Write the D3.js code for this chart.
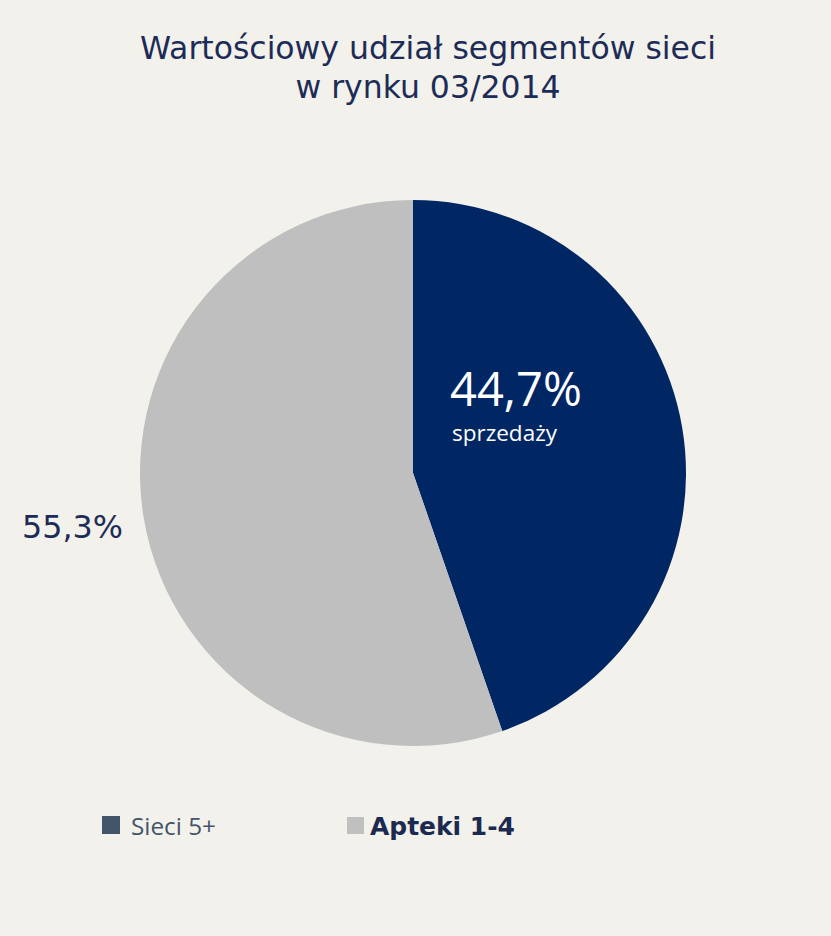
<!DOCTYPE html>
<html>
<head>
<meta charset="utf-8">
<script src="https://cdn.jsdelivr.net/npm/d3@7"></script>
<style>
  body { margin: 0; background: #f2f1eb; }
  svg { display: block; }
</style>
</head>
<body>
<div id="chart"></div>
<script>
let categories = ["Sieci 5+", "Apteki 1-4"];
let values     = [44.7, 55.3];
let colors     = ["#002663", "#bfbfbf"];
let titleLines = ["Wartościowy udział segmentów sieci", "w rynku 03/2014"];

let width  = 831,
    height = 936;

let cx = 413, cy = 473, radius = 273;

let svg =
  d3.select("#chart")
    .append("svg")
      .attr("width", width)
      .attr("height", height);

svg.append("rect")
    .attr("width", width)
    .attr("height", height)
    .attr("fill", "#f2f1eb");

// title
let title = svg.append("g")
    .attr("fill", "#1d2c57")
    .attr("font-family", "DejaVu Sans, Verdana, sans-serif")
    .attr("font-size", 27)
    .attr("text-anchor", "middle");

title.selectAll("text")
  .data(titleLines)
  .enter().append("text")
    .attr("x", 428)
    .attr("y", (d, i) => 59 + i * 39)
    .text(d => d);

// fit first title line to the reference width
fitWidth(title, title.select("text"), 27, 576);

let pie =
  d3.pie()
    .sort(null)
    .value(d => d);

let arc =
  d3.arc()
    .innerRadius(0)
    .outerRadius(radius);

let slices = svg.append("g")
    .attr("transform", translate(cx, cy));

slices.selectAll("path")
  .data(pie(values))
  .enter().append("path")
    .attr("fill", (d, i) => colors[i])
    .attr("d", arc);

// labels
let big = svg.append("text")
    .attr("x", 450)
    .attr("y", 406)
    .attr("fill", "#ffffff")
    .attr("font-family", "Open Sans, sans-serif")
    .attr("font-size", 46)
    .text(d3.format(".1f")(values[0]).replace(".", ",") + "%");
fitWidth(big, big, 46, 132);

let sub = svg.append("text")
    .attr("x", 452)
    .attr("y", 441)
    .attr("fill", "#ffffff")
    .attr("font-family", "Open Sans, sans-serif")
    .attr("font-size", 20)
    .text("sprzedaży");
fitWidth(sub, sub, 20, 105);

let other = svg.append("text")
    .attr("x", 22)
    .attr("y", 538)
    .attr("fill", "#1d2c57")
    .attr("font-family", "DejaVu Sans, Verdana, sans-serif")
    .attr("font-size", 26)
    .text(d3.format(".1f")(values[1]).replace(".", ",") + "%");
fitWidth(other, other, 26, 101);

// legend
let legend = [
  {x: 102, sq: 18, sy: 816, tx: 131, color: "#44546a", text: "#44546a",
   font: "Open Sans, sans-serif", weight: "normal", size: 22, w: 85},
  {x: 347, sq: 17, sy: 817, tx: 370, color: "#c0c0c0", text: "#1b2a4e",
   font: "DejaVu Sans, Verdana, sans-serif", weight: "bold", size: 22, w: 145}
];

let lg = svg.append("g");

lg.selectAll("rect")
  .data(legend)
  .enter().append("rect")
    .attr("x", d => d.x)
    .attr("y", d => d.sy)
    .attr("width", d => d.sq)
    .attr("height", d => d.sq)
    .attr("fill", d => d.color);

lg.selectAll("text")
  .data(legend)
  .enter().append("text")
    .attr("x", d => d.tx)
    .attr("y", 835)
    .attr("fill", d => d.text)
    .attr("font-family", d => d.font)
    .attr("font-weight", d => d.weight)
    .attr("font-size", d => d.size)
    .text((d, i) => categories[i])
    .each(function(d) {
      let s = d3.select(this);
      fitWidth(s, s, d.size, d.w);
    });

function fitWidth(target, measured, size, want) {
  let w = measured.node().getComputedTextLength();
  target.attr("font-size", size * want / w);
}

function translate(x, y=0) {
  return "translate({x}, {y})"
          .replace("{x}", x)
          .replace("{y}", y);
}
</script>
</body>
</html>
